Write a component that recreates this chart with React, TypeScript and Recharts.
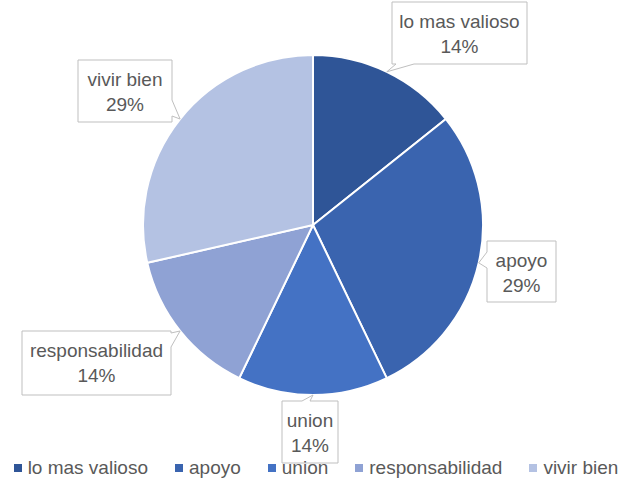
import React from "react";
import { PieChart, Pie, Cell, Legend } from "recharts";

const categories = ["lo mas valioso", "apoyo", "union", "responsabilidad", "vivir bien"];
const values = [1, 2, 1, 1, 2];
const COLORS = ["#2F5597", "#3A64AF", "#4472C4", "#8FA2D4", "#B4C2E3"];

const data = categories.map((name, i) => ({ name, value: values[i] }));

// callout box placement relative to the pie centre
type Box = { x: number; y: number; w: number; h: number; side: string; a: number; b: number };
const BOXES: Box[] = [
  { x: 79, y: -223, w: 135, h: 62, side: "bottom", a: 4, b: 22 },
  { x: 174, y: 16, w: 69, h: 61, side: "left", a: 11, b: 27 },
  { x: -31, y: 176, w: 56, h: 62, side: "top", a: 20, b: 28 },
  { x: -291, y: 106, w: 149, h: 64, side: "right", a: 2, b: 16 },
  { x: -235, y: -165, w: 94, h: 62, side: "right", a: 40, b: 56 },
];

const calloutPath = (x: number, y: number, w: number, h: number, tx: number, ty: number, side: string, a: number, b: number) => {
  const r = x + w;
  const btm = y + h;
  if (side === "top")
    return `M${x},${y} L${x + a},${y} L${tx},${ty} L${x + b},${y} L${r},${y} L${r},${btm} L${x},${btm} Z`;
  if (side === "right")
    return `M${x},${y} L${r},${y} L${r},${y + a} L${tx},${ty} L${r},${y + b} L${r},${btm} L${x},${btm} Z`;
  if (side === "bottom")
    return `M${x},${y} L${r},${y} L${r},${btm} L${x + b},${btm} L${tx},${ty} L${x + a},${btm} L${x},${btm} Z`;
  return `M${x},${y} L${r},${y} L${r},${btm} L${x},${btm} L${x},${y + b} L${tx},${ty} L${x},${y + a} Z`;
};

const RADIAN = Math.PI / 180;

const renderLabel = (props: any) => {
  const { cx, cy, midAngle, outerRadius, index, percent, name } = props;
  const box = BOXES[index];
  const tx = cx + outerRadius * Math.cos(-midAngle * RADIAN);
  const ty = cy + outerRadius * Math.sin(-midAngle * RADIAN);
  const x = cx + box.x;
  const y = cy + box.y;
  const mid = x + box.w / 2;
  return (
    <g key={`lbl-${index}`}>
      <path
        d={calloutPath(x, y, box.w, box.h, tx, ty, box.side, box.a, box.b)}
        fill="#FFFFFF"
        stroke="#BFBFBF"
        strokeWidth={1}
      />
      <text x={mid} y={y + 19} textAnchor="middle" dominantBaseline="central" fill="#595959" fontSize={19}>
        {name}
      </text>
      <text x={mid} y={y + 44} textAnchor="middle" dominantBaseline="central" fill="#595959" fontSize={19}>
        {`${(percent * 100).toFixed(0)}%`}
      </text>
    </g>
  );
};

const renderLegend = () => (
  <div
    style={{
      display: "flex",
      justifyContent: "center",
      gap: 27,
      paddingLeft: 8,
      fontSize: 19,
      color: "#595959",
      fontFamily: "'Liberation Sans', Arial, sans-serif",
    }}
  >
    {categories.map((c, i) => (
      <div key={c} style={{ display: "flex", alignItems: "center" }}>
        <span style={{ width: 8, height: 8, background: COLORS[i], marginRight: 6, display: "inline-block" }} />
        <span>{c}</span>
      </div>
    ))}
  </div>
);

export default function App() {
  return (
    <div style={{ position: "absolute", left: 0, top: 0, background: "#FFFFFF", fontFamily: "'Liberation Sans', Arial, sans-serif" }}>
      <PieChart width={624} height={479} margin={{ top: 0, right: 0, bottom: 0, left: 0 }}>
        <Pie
          data={data}
          dataKey="value"
          nameKey="name"
          cx={313}
          cy={225}
          outerRadius={170}
          startAngle={90}
          endAngle={-270}
          stroke="#FFFFFF"
          strokeWidth={2}
          label={renderLabel}
          labelLine={false}
          isAnimationActive={false}
        >
          {data.map((entry, i) => (
            <Cell key={`cell-${i}`} fill={COLORS[i]} />
          ))}
        </Pie>
        <Legend
          verticalAlign="bottom"
          content={renderLegend}
          wrapperStyle={{ bottom: 0, left: 0, width: 624 }}
        />
      </PieChart>
    </div>
  );
}
